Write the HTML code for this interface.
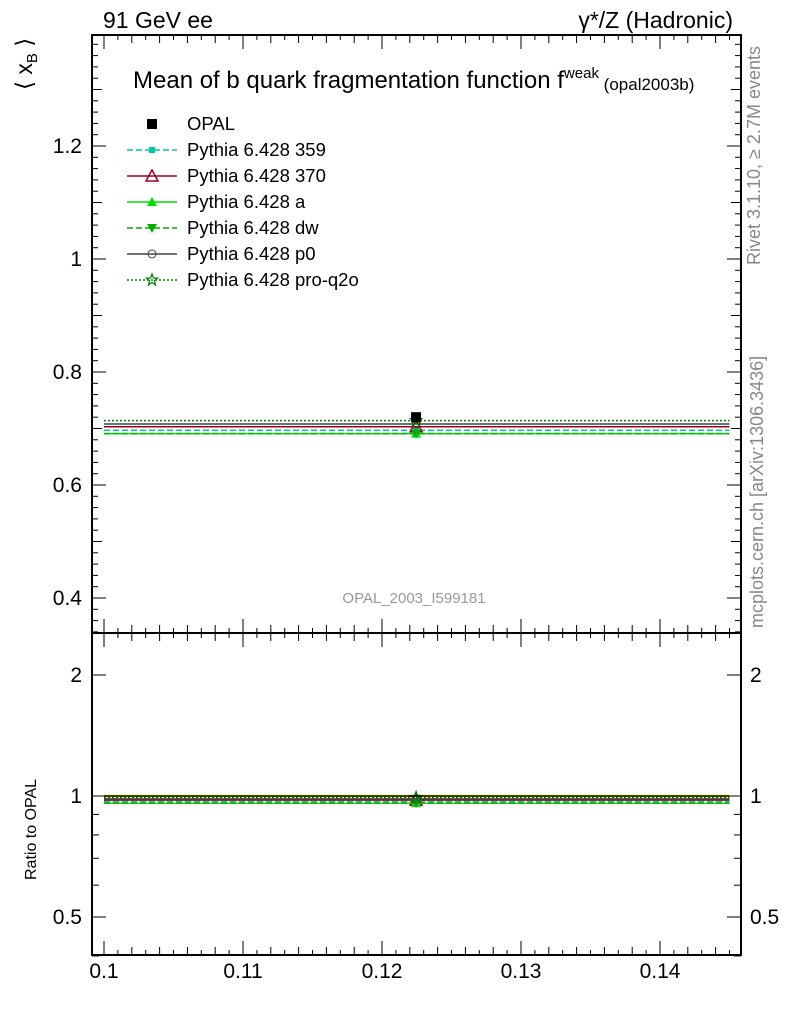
<!DOCTYPE html>
<html><head><meta charset="utf-8"><style>
body{margin:0;background:#fff}
svg text{font-family:"Liberation Sans",sans-serif}
</style></head><body>
<svg id="c" width="786" height="1024" xmlns="http://www.w3.org/2000/svg">
<rect x="0" y="0" width="786" height="1024" fill="#fff"/>
<text x="103" y="28" font-size="23">91 GeV ee</text>
<text x="733" y="28" font-size="23" text-anchor="end">γ*/Z (Hadronic)</text>
<text x="133" y="88" font-size="24">Mean of b quark fragmentation function f<tspan font-size="15" dy="-10">weak</tspan><tspan font-size="17" dy="12"> (opal2003b)</tspan></text>
<text x="414" y="603" font-size="15" fill="#999" text-anchor="middle">OPAL_2003_I599181</text>
<text transform="translate(760,265) rotate(-90)" font-size="18" fill="#888">Rivet 3.1.10, ≥ 2.7M events</text>
<text transform="translate(763,628) rotate(-90)" font-size="18" fill="#888">mcplots.cern.ch [arXiv:1306.3436]</text>
<text transform="translate(32,90) rotate(-90)" font-size="23">⟨ x<tspan font-size="15" dy="5">B</tspan><tspan dy="-5"> ⟩</tspan></text>
<text transform="translate(36,880) rotate(-90)" font-size="16">Ratio to OPAL</text>
<g id="main"></g><g id="ratio"></g><g id="legend"></g>
</svg>
<script>
const xTicks=[0.1,0.11,0.12,0.13,0.14];
const mainTicks=[0.4,0.6,0.8,1,1.2];
const ratioTicks=[0.5,1,2];
const dataX=[0.12245];
const dataY=[0.720];
const seriesNames=["Pythia 6.428 359","Pythia 6.428 370","Pythia 6.428 a","Pythia 6.428 dw","Pythia 6.428 p0","Pythia 6.428 pro-q2o"];
const seriesVals=[0.697,0.703,0.691,0.691,0.708,0.714];
const binLo=0.1, binHi=0.145;
const styles=[{c:"#00c8a0",d:"6,3",m:"sq"},{c:"#a00020",d:"",m:"tri"},{c:"#00e000",d:"",m:"trif"},{c:"#00b000",d:"6,3",m:"trid"},{c:"#444",d:"",m:"circ"},{c:"#008000",d:"2,2",m:"star"}];
const NS="http://www.w3.org/2000/svg";
const L=92,R=741,MT=35,MB=633,RB=955;
const X=v=>104+(v-0.1)*13900;
const Y=v=>372-(v-0.8)*565;
const YR=v=>796-Math.log2(v)*121;
function el(p,t,a){const e=document.createElementNS(NS,t);for(const k in a)e.setAttribute(k,a[k]);p.appendChild(e);return e;}
const main=document.getElementById('main'),ratio=document.getElementById('ratio'),leg=document.getElementById('legend');
function marker(g,m,x,y,c){
 if(m=="sq")return el(g,'rect',{x:x-3,y:y-3,width:6,height:6,fill:c});
 if(m=="tri")return el(g,'polygon',{points:`${x},${y-6} ${x-6},${y+5} ${x+6},${y+5}`,fill:"none",stroke:c,"stroke-width":1.5});
 if(m=="trif")return el(g,'polygon',{points:`${x},${y-5} ${x-5},${y+4} ${x+5},${y+4}`,fill:c});
 if(m=="trid")return el(g,'polygon',{points:`${x},${y+5} ${x-5},${y-4} ${x+5},${y-4}`,fill:c});
 if(m=="circ")return el(g,'circle',{cx:x,cy:y,r:4,fill:"none",stroke:c,"stroke-width":1});
 let p=[];for(let i=0;i<10;i++){const r=i%2?2.5:6,a=-Math.PI/2+i*Math.PI/5;p.push((x+r*Math.cos(a)).toFixed(1)+","+(y+r*Math.sin(a)).toFixed(1));}
 return el(g,'polygon',{points:p.join(" "),fill:"none",stroke:c,"stroke-width":1.2});
}
function frame(g,top,bot,name){
 const f=el(g,'rect',{x:L,y:top,width:R-L,height:bot-top,fill:"none",stroke:"#000","stroke-width":2});
 
 for(let v=0.1;v<=0.1455;v+=0.001){const x=X(v);const k=Math.round(v*1000);const len=k%10==0?14:(k%2==0?8:5);
  el(g,'line',{x1:x,x2:x,y1:bot,y2:bot-len,stroke:"#000","stroke-width":1});
  el(g,'line',{x1:x,x2:x,y1:top,y2:top+len,stroke:"#000","stroke-width":1});}
}
frame(main,MT,MB,'main-frame');frame(ratio,MB,RB,'ratio-frame');
xTicks.forEach(v=>{const t=el(ratio,'text',{x:X(v),y:978,"font-size":21,"text-anchor":"middle"});t.textContent=v;
 });
for(let v=0.34;v<=1.4;v+=0.02){const y=Y(v);if(y<MT||y>MB)continue;const k=Math.round(v*100);const len=k%20==0?14:(k%10==0?10:6);
 el(main,'line',{x1:L,x2:L+len,y1:y,y2:y,stroke:"#000"});el(main,'line',{x1:R,x2:R-len,y1:y,y2:y,stroke:"#000"});}
mainTicks.forEach(v=>{const t=el(main,'text',{x:82,y:Y(v)+7,"font-size":21,"text-anchor":"end"});t.textContent=v;
 });
[0.4,0.5,0.6,0.7,0.8,0.9,1,2].forEach(v=>{const y=YR(v);const len=(v==0.5||v==1||v==2)?14:7;
 el(ratio,'line',{x1:L,x2:L+len,y1:y,y2:y,stroke:"#000"});el(ratio,'line',{x1:R,x2:R-len,y1:y,y2:y,stroke:"#000"});});
ratioTicks.forEach(v=>{[[82,"end"],[750,"start"]].forEach(([x,a])=>{const t=el(ratio,'text',{x:x,y:YR(v)+7,"font-size":21,"text-anchor":a});t.textContent=v;
 });});
const band=el(ratio,'rect',{x:X(binLo),y:YR(1.01),width:X(binHi)-X(binLo),height:YR(0.99)-YR(1.01),fill:"#ffff80"});

seriesVals.forEach((v,i)=>{const s=styles[i];
 const ln=el(main,'line',{x1:X(binLo),x2:X(binHi),y1:Y(v),y2:Y(v),stroke:s.c,"stroke-width":1.5,"stroke-dasharray":s.d});
 
 const mk=marker(main,s.m,X(dataX[0]),Y(v),s.c);
 const r=v/dataY[0];
 const rl=el(ratio,'line',{x1:X(binLo),x2:X(binHi),y1:YR(r),y2:YR(r),stroke:s.c,"stroke-width":1.5,"stroke-dasharray":s.d});
 
 const rm=marker(ratio,s.m,X(dataX[0]),YR(r),s.c);
});
const rr=el(ratio,'line',{x1:X(binLo),x2:X(binHi),y1:YR(1),y2:YR(1),stroke:"#000","stroke-width":1.5});

dataX.forEach((x,i)=>{const p=el(main,'rect',{x:X(x)-5,y:Y(dataY[i])-5,width:10,height:10,fill:"#000"});
 });
const names=["OPAL"].concat(seriesNames);
names.forEach((n,i)=>{const y=124+i*26;const g=el(leg,'g',{});
 
 if(i==0)el(g,'rect',{x:147,y:y-5,width:10,height:10,fill:"#000"});
 else{const s=styles[i-1];el(g,'line',{x1:127,x2:177,y1:y,y2:y,stroke:s.c,"stroke-width":1.5,"stroke-dasharray":s.d});marker(g,s.m,152,y,s.c);}
 const t=el(g,'text',{x:187,y:y+6,"font-size":18.5});t.textContent=n;});
</script>
</body></html>
